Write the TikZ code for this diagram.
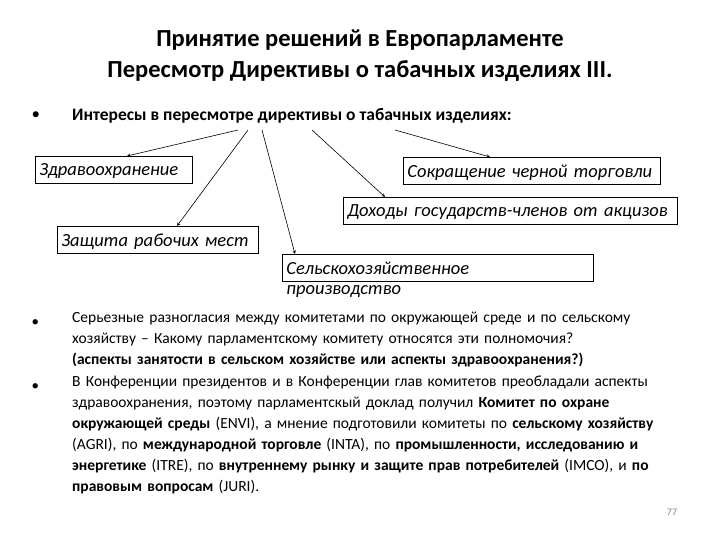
\documentclass[tikz,border=0pt]{standalone}
\usepackage{fontspec}
\setmainfont{Carlito}
\begin{document}
\begin{tikzpicture}[x=1pt,y=-1pt,
 box/.style={draw,thick,inner sep=4pt,font=\itshape\fontsize{18.5}{20}\selectfont,anchor=north west,minimum height=27pt,align=left,text depth=0pt},
 arr/.style={->,>=stealth,semithick},
 para/.style={anchor=north west,align=left,text width=605pt,font=\fontsize{15.5}{21}\selectfont,inner sep=0pt}]
\useasboundingbox (0,0) rectangle (720,540);
\node[font=\bfseries\fontsize{24.5}{31}\selectfont,align=center] (title) at (360,56) {Принятие решений в Европарламенте\\Пересмотр Директивы о табачных изделиях III.};
\node[anchor=west,font=\fontsize{17}{20}\selectfont] (b0) at (28,116) {•};
\node[anchor=west,font=\bfseries\fontsize{17.5}{20}\selectfont,inner sep=0pt] (int) at (72,116) {Интересы в пересмотре директивы о табачных изделиях:};
\node[box,text width=149pt] (zd) at (35,156) {Здравоохранение};
\node[box,text width=249pt] (sk) at (403,157) {Сокращение черной торговли};
\node[box,text width=326pt] (dh) at (343,197) {Доходы государств-членов от акцизов};
\node[box,text width=193pt] (zr) at (57,226) {Защита рабочих мест};
\node[box,text width=303pt] (sh) at (282,254) {Сельскохозяйственное производство};
\coordinate (s1) at (238,130); \coordinate (s2) at (248,130);
\coordinate (s3) at (262,130); \coordinate (s4) at (312,130); \coordinate (s5) at (395,130);
\draw[arr] (s1) -- (127,156);
\draw[arr] (s2) -- (177,226);
\draw[arr] (s3) -- (295,254);
\draw[arr] (s4) -- (385,197);
\draw[arr] (s5) -- (490,157);
\node[anchor=west,font=\fontsize{15}{18}\selectfont] (b1) at (28,323) {•};
\node[para] (p1) at (72,312) {\raggedright Серьезные разногласия между комитетами по окружающей среде и по сельскому хозяйству – Какому парламентскому комитету относятся эти полномочия?\\\textbf{(аспекты занятости в сельском хозяйстве или аспекты здравоохранения?)}};
\node[anchor=west,font=\fontsize{15}{18}\selectfont] (b2) at (28,387) {•};
\node[para] (p2) at (72,376) {\raggedright В Конференции президентов и в Конференции глав комитетов преобладали аспекты здравоохранения, поэтому парламентскый доклад получил \textbf{Комитет по охране окружающей среды} (ENVI), а мнение подготовили комитеты по \textbf{сельскому хозяйству} (AGRI), по \textbf{международной торговле} (INTA), по \textbf{промышленности, исследованию и энергетике} (ITRE), по \textbf{внутреннему рынку и защите прав потребителей} (IMCO), и \textbf{по правовым вопросам} (JURI).};
\node[font=\fontsize{10}{12}\selectfont,text=gray] (pg) at (672,512) {77};
\end{tikzpicture}
\end{document}
